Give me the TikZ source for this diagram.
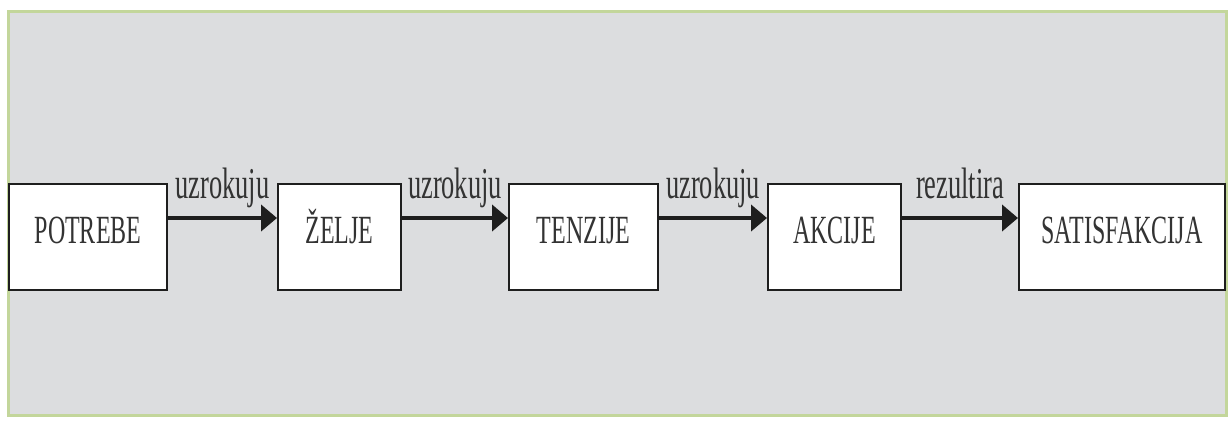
\documentclass[tikz,border=0pt]{standalone}
\usepackage{fontspec}
\setmainfont{Liberation Serif}
\usetikzlibrary{arrows.meta}
\definecolor{bggray}{HTML}{DCDDDF}
\definecolor{framegreen}{HTML}{C3D69B}
\definecolor{ink}{HTML}{1E1E1E}
\definecolor{txt}{HTML}{333333}
\newcommand{\cnd}[1]{\scalebox{0.6}[1]{#1}}
\begin{document}
\begin{tikzpicture}[x=1pt,y=-1pt,
  box/.style={draw=ink, line width=2pt, fill=white, inner sep=0pt,
    minimum height=106pt, text height=27pt, text depth=15pt,
    font=\fontsize{40}{48}\selectfont, text=txt},
  conn/.style={draw=ink, line width=4pt, -{Triangle[length=16pt,width=26pt]}},
  lbl/.style={font=\fontsize{44}{52}\selectfont, anchor=base, yshift=20pt,
    text=txt, inner sep=0pt}]
\useasboundingbox (0,0) rectangle (1228,421);
\fill[white] (0,0) rectangle (1228,421);
\draw[framegreen, line width=3pt, fill=bggray] (8.5,11.5) rectangle (1226.5,415.5);
\node[box, minimum width=158pt] (potrebe) at (88,237) {\cnd{POTREBE}};
\node[box, minimum width=123pt] (zelje) at (339.5,237) {\cnd{ŽELJE}};
\node[box, minimum width=149pt] (tenzije) at (583.5,237) {\cnd{TENZIJE}};
\node[box, minimum width=133pt] (akcije) at (834.5,237) {\cnd{AKCIJE}};
\node[box, minimum width=206pt] (satisf) at (1122,237) {\cnd{SATISFAKCIJA}};
\draw[conn] ([yshift=19pt]potrebe.east) -- node[lbl] (l1) {\cnd{uzrokuju}} ([yshift=19pt]zelje.west);
\draw[conn] ([yshift=19pt]zelje.east) -- node[lbl] (l2) {\cnd{uzrokuju}} ([yshift=19pt]tenzije.west);
\draw[conn] ([yshift=19pt]tenzije.east) -- node[lbl] (l3) {\cnd{uzrokuju}} ([yshift=19pt]akcije.west);
\draw[conn] ([yshift=19pt]akcije.east) -- node[lbl] (l4) {\cnd{rezultira}} ([yshift=19pt]satisf.west);
\end{tikzpicture}
\end{document}
